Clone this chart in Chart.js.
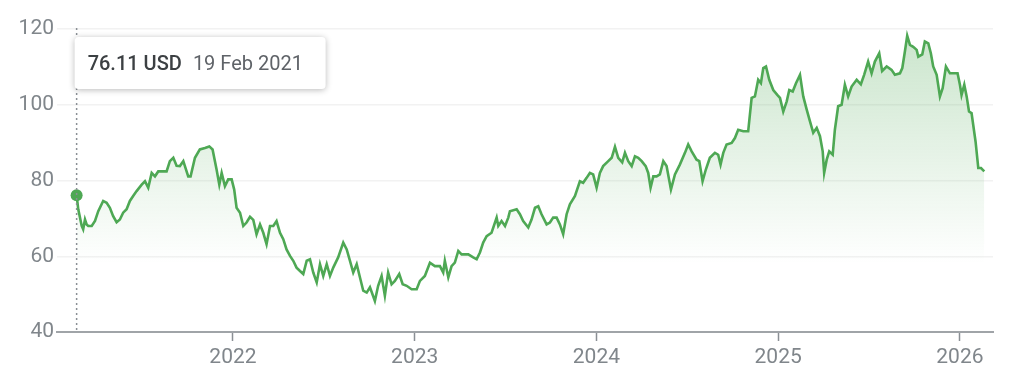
<!DOCTYPE html>
<html>
<head>
<meta charset="utf-8">
<script src="https://cdn.jsdelivr.net/npm/chart.js@4/dist/chart.umd.min.js"></script>
<style>
  html, body { margin: 0; padding: 0; background: #fff; }
  #wrap { width: 1024px; height: 380px; position: relative; }
</style>
</head>
<body>
<div id="wrap"><canvas id="myChart"></canvas></div>
<script>
// dates as decimal years, prices in USD
const dates = [
  2021.140, 2021.149, 2021.168, 2021.176, 2021.186, 2021.195, 2021.204, 2021.223, 2021.241, 2021.259,
  2021.286, 2021.305, 2021.323, 2021.341, 2021.360, 2021.378, 2021.396, 2021.415, 2021.433, 2021.451,
  2021.470, 2021.498, 2021.516, 2021.534, 2021.553, 2021.571, 2021.589, 2021.608, 2021.635, 2021.653,
  2021.672, 2021.690, 2021.708, 2021.727, 2021.754, 2021.767, 2021.791, 2021.818, 2021.846, 2021.870,
  2021.888, 2021.910, 2021.925, 2021.938, 2021.956, 2021.974,
  2021.993, 2022.007, 2022.020, 2022.039, 2022.057, 2022.075, 2022.094, 2022.112, 2022.130, 2022.149,
  2022.167, 2022.185, 2022.204, 2022.222, 2022.240, 2022.259, 2022.277, 2022.295, 2022.314, 2022.332,
  2022.350, 2022.369, 2022.387, 2022.406, 2022.424, 2022.442, 2022.461, 2022.479, 2022.497, 2022.516,
  2022.534, 2022.552, 2022.579, 2022.607, 2022.626, 2022.644, 2022.662, 2022.681, 2022.699, 2022.717,
  2022.736, 2022.754, 2022.781, 2022.799, 2022.818, 2022.836,
  2022.854, 2022.873, 2022.891, 2022.915, 2022.934, 2022.956, 2022.983, 2023.011, 2023.029, 2023.056,
  2023.084, 2023.111, 2023.139, 2023.157, 2023.166, 2023.185, 2023.203, 2023.221, 2023.240, 2023.258,
  2023.295, 2023.322, 2023.341, 2023.359, 2023.377, 2023.396, 2023.423, 2023.451, 2023.460, 2023.478,
  2023.497, 2023.515, 2023.524, 2023.561, 2023.579, 2023.597, 2023.625, 2023.643, 2023.662, 2023.680,
  2023.698, 2023.726, 2023.744, 2023.762, 2023.781, 2023.799, 2023.817, 2023.836, 2023.854, 2023.882,
  2023.909, 2023.927, 2023.946, 2023.964, 2023.982, 2024.001, 2024.019, 2024.037, 2024.065, 2024.084,
  2024.102, 2024.120, 2024.142, 2024.157, 2024.175, 2024.194, 2024.212, 2024.230, 2024.249, 2024.271,
  2024.285, 2024.298, 2024.313, 2024.331, 2024.349, 2024.368, 2024.386, 2024.410, 2024.432, 2024.459,
  2024.487, 2024.505, 2024.524,
  2024.551, 2024.566, 2024.584, 2024.602, 2024.624, 2024.652, 2024.670, 2024.683, 2024.698, 2024.716,
  2024.744, 2024.762, 2024.780, 2024.808, 2024.835, 2024.854, 2024.872, 2024.890, 2024.905, 2024.918,
  2024.933, 2024.951, 2024.973, 2024.995, 2025.010, 2025.028, 2025.047, 2025.061, 2025.080, 2025.098,
  2025.120, 2025.138, 2025.157, 2025.175, 2025.193, 2025.212, 2025.230, 2025.245, 2025.253, 2025.267,
  2025.281, 2025.300, 2025.312, 2025.330, 2025.349, 2025.367,
  2025.385, 2025.404, 2025.432, 2025.455, 2025.473, 2025.495, 2025.514, 2025.532, 2025.556, 2025.572,
  2025.597, 2025.624, 2025.642, 2025.670, 2025.683, 2025.697, 2025.710, 2025.725, 2025.743, 2025.762,
  2025.771, 2025.793, 2025.807, 2025.826, 2025.840, 2025.853, 2025.872, 2025.890, 2025.905, 2025.923,
  2025.945, 2025.973, 2025.987, 2026.000, 2026.009, 2026.024, 2026.037, 2026.050, 2026.064, 2026.086,
  2026.101, 2026.116, 2026.134
];
const prices = [
  76.11, 72.4, 68.0, 67.1, 69.7, 68.4, 68.0, 68.0, 69.3, 71.9,
  74.6, 74.1, 72.8, 70.6, 69.0, 69.7, 71.5, 72.4, 74.6, 75.9,
  77.2, 78.9, 79.8, 78.1, 82.0, 81.1, 82.4, 82.4, 82.4, 85.1,
  86.0, 83.9, 83.8, 85.1, 81.1, 81.1, 86.0, 88.2, 88.6, 89.0,
  88.2, 82.9, 78.9, 82.0, 78.5, 80.3,
  80.3, 77.6, 72.8, 71.5, 68.0, 68.9, 70.4, 69.6, 65.8, 68.4,
  66.2, 63.2, 68.0, 68.0, 69.3, 66.2, 64.5, 61.8, 60.1, 58.8,
  57.0, 56.1, 55.3, 58.8, 59.2, 55.7, 53.1, 57.9, 54.8, 57.9,
  54.8, 57.0, 59.7, 63.6, 61.8, 58.8, 55.7, 57.9, 54.4, 50.9,
  50.4, 51.8, 48.2, 52.2, 54.8, 49.6,
  55.7, 52.6, 53.5, 55.3, 52.6, 52.2, 51.3, 51.3, 53.5, 54.8,
  58.3, 57.4, 57.4, 55.7, 58.8, 54.4, 57.4, 58.3, 61.4, 60.5,
  60.5, 59.7, 59.2, 61.0, 63.6, 65.3, 66.2, 70.2, 68.0, 69.3,
  68.0, 70.2, 71.9, 72.4, 71.1, 69.3, 67.6, 69.7, 72.8, 73.2,
  71.1, 68.4, 68.9, 70.2, 70.2, 68.4, 65.8, 71.1, 73.7, 75.9,
  79.8, 79.4, 80.7, 82.0, 81.6, 78.1, 82.0, 83.8, 85.1, 86.0,
  88.9, 86.0, 84.8, 87.3, 85.1, 83.8, 86.4, 86.0, 85.1, 83.8,
  82.0, 78.1, 81.1, 81.1, 81.6, 85.1, 83.8, 77.6, 81.6, 84.2,
  87.3, 89.5, 87.7,
  85.5, 85.1, 79.8, 82.9, 86.0, 87.3, 86.8, 84.2, 87.3, 89.5,
  89.9, 91.2, 93.4, 93.0, 93.0, 101.8, 102.2, 106.6, 105.7, 109.7,
  110.1, 106.6, 103.9, 102.6, 101.8, 98.2, 100.9, 103.9, 103.5, 105.7,
  107.9, 102.2, 98.7, 95.6, 92.6, 93.9, 91.7, 87.7, 82.0, 85.5,
  87.7, 86.8, 93.4, 99.6, 100.0, 105.3,
  102.2, 104.8, 106.6, 105.4, 107.9, 111.4, 108.3, 111.4, 113.6, 108.9,
  110.1, 109.2, 107.9, 108.3, 109.7, 114.0, 118.2, 115.8, 115.3, 114.5,
  112.7, 113.3, 116.7, 116.2, 113.6, 110.1, 107.9, 102.2, 104.4, 110.1,
  108.3, 108.3, 108.3, 105.3, 102.6, 105.3, 102.2, 98.2, 97.8, 90.3,
  83.3, 83.3, 82.4
];
const yearTicks = [2022, 2023, 2024, 2025, 2026];
const priceTicks = [40, 60, 80, 100, 120];
const tipPrice = '76.11 USD';
const tipDate = '19 Feb 2021';

const green = 'rgb(78, 168, 84)';
const font = 'Roboto, "Noto Sans", sans-serif';

const points = dates.map(function (d, i) { return { x: d, y: prices[i] }; });

function fillGradient(context) {
    const chart = context.chart;
    const area = chart.chartArea;
    if (!area) return 'rgba(78,168,84,0.2)';
    const g = chart.ctx.createLinearGradient(0, area.top, 0, area.top + 235);
    g.addColorStop(0, 'rgba(78,168,84,0.30)');
    g.addColorStop(1, 'rgba(78,168,84,0)');
    return g;
}

/* ligne pointillee + bulle du premier point */
const tipPlugin = {
    id: 'tip',
    afterDatasetsDraw: function (chart) {
        const ctx = chart.ctx;
        const area = chart.chartArea;
        const px = chart.scales.x.getPixelForValue(dates[0]);
        ctx.save();
        ctx.strokeStyle = '#8a8f94';
        ctx.lineWidth = 1.5;
        ctx.setLineDash([2, 3]);
        ctx.beginPath();
        ctx.moveTo(px, area.top - 1);
        ctx.lineTo(px, area.bottom);
        ctx.stroke();
        ctx.setLineDash([]);

        const bx = px - 2, by = area.top + 8, bw = 251, bh = 52;
        ctx.shadowColor = 'rgba(0,0,0,0.28)';
        ctx.shadowBlur = 6;
        ctx.shadowOffsetY = 1;
        ctx.fillStyle = '#fff';
        ctx.beginPath();
        ctx.roundRect(bx, by, bw, bh, 4);
        ctx.fill();
        ctx.shadowColor = 'transparent';

        ctx.textBaseline = 'middle';
        ctx.font = '500 20px ' + font;
        ctx.fillStyle = '#3c4043';
        ctx.fillText(tipPrice, bx + 13, by + 28);
        const w = ctx.measureText(tipPrice).width;
        ctx.font = '400 20px ' + font;
        ctx.fillStyle = '#5f6368';
        ctx.fillText(tipDate, bx + 13 + w + 11, by + 28);
        ctx.restore();
    }
};

const ctx = document.getElementById('myChart').getContext('2d');
const myChart = new Chart(ctx, {
    type: 'line',
    data: {
        datasets: [{
            data: points,
            borderColor: green,
            borderWidth: 2.6,
            backgroundColor: fillGradient,
            fill: 'origin',
            tension: 0,
            pointRadius: function (c) { return c.dataIndex === 0 ? 6 : 0; },
            pointBackgroundColor: green,
            pointBorderWidth: 0,
            pointHoverRadius: 0
        }]
    },
    options: {
        responsive: true,
        maintainAspectRatio: false,
        animation: false,
        events: [],
        layout: { padding: { top: 29, right: 31, left: 0, bottom: 0 } },
        plugins: { legend: { display: false }, tooltip: { enabled: false } },
        scales: {
            x: {
                type: 'linear',
                min: 2021.032,
                max: 2026.182,
                afterBuildTicks: function (scale) {
                    scale.ticks = yearTicks.map(function (v) { return { value: v }; });
                },
                afterFit: function (scale) { scale.height = 48; },
                grid: {
                    drawOnChartArea: false,
                    drawTicks: true,
                    tickLength: 9,
                    tickWidth: 1.5,
                    tickColor: '#8a8f94'
                },
                border: { display: true, color: '#a0a4a8', width: 2 },
                ticks: {
                    autoSkip: false,
                    maxRotation: 0,
                    padding: 4,
                    color: '#80868b',
                    font: { family: font, size: 21 },
                    callback: function (v) { return String(v); }
                }
            },
            y: {
                min: 40,
                max: 120,
                afterBuildTicks: function (scale) {
                    scale.ticks = priceTicks.map(function (v) { return { value: v }; });
                },
                afterFit: function (scale) { scale.width = 57; },
                grid: { color: '#f2f2f2', lineWidth: 1.5, drawTicks: false },
                border: { display: false },
                ticks: {
                    padding: 3,
                    color: '#80868b',
                    font: { family: font, size: 21 }
                }
            }
        }
    },
    plugins: [tipPlugin]
});
</script>
</body>
</html>
